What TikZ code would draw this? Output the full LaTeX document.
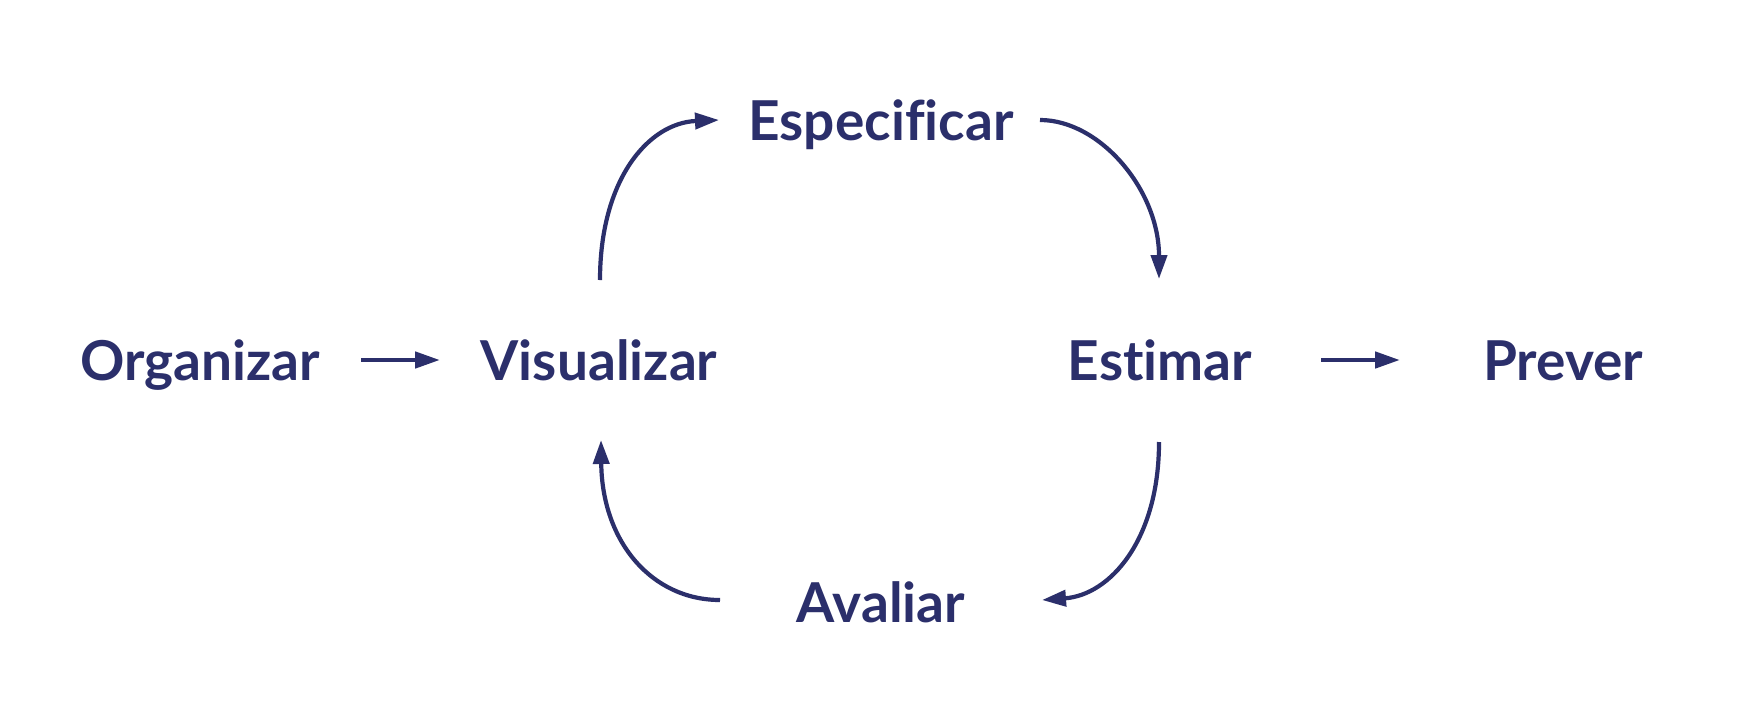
\documentclass[tikz,border=0pt]{standalone}
\usepackage{fontspec}
\setmainfont{Lato}[Ligatures=NoCommon]
\usetikzlibrary{arrows.meta}
\definecolor{navy}{RGB}{43,47,107}
\begin{document}
\begin{tikzpicture}[x=1pt,y=-1pt,
  lbl/.style={inner sep=0pt, anchor=base, text=navy, font=\fontsize{55}{60}\selectfont\bfseries},
  flow/.style={draw=navy, line width=4.6pt, -{Triangle[length=25pt,width=16pt]}},
  cyc/.style={draw=navy, line width=4.2pt, -{Triangle[length=24pt,width=16pt]}}]
\useasboundingbox[fill=white] (0,0) rectangle (1760,720);
\node[lbl] (org) at (200,380) {Organizar};
\node[lbl] (vis) at (599,380) {Visualizar};
\node[lbl] (est) at (1160,380) {Estimar};
\node[lbl] (pre) at (1563,380) {Prever};
\node[lbl] (esp) at (881,140) {Especificar};
\node[lbl] (ava) at (881,622) {Avaliar};
% connector end points
\coordinate (o-out) at (361,360);
\coordinate (v-in) at (440,360);
\coordinate (e-out) at (1321,360);
\coordinate (p-in) at (1400,360);
\coordinate (v-top) at (600,280);
\coordinate (sp-in) at (719,120);
\coordinate (sp-out) at (1040,120);
\coordinate (e-top) at (1159,279);
\coordinate (e-bot) at (1159,442);
\coordinate (av-in) at (1042,600);
\coordinate (av-out) at (720,600);
\coordinate (v-bot) at (601,440);
\draw[flow] (o-out) -- (v-in);
\draw[flow] (e-out) -- (p-in);
\draw[cyc] (v-top) .. controls (600,180) and (648,123) .. (sp-in);
\draw[cyc] (sp-out) .. controls (1100,120) and (1159,190) .. (e-top);
\draw[cyc] (e-bot) .. controls (1159,540) and (1110,595) .. (av-in);
\draw[cyc] (av-out) .. controls (652,600) and (602,542) .. (v-bot);
\end{tikzpicture}
\end{document}
